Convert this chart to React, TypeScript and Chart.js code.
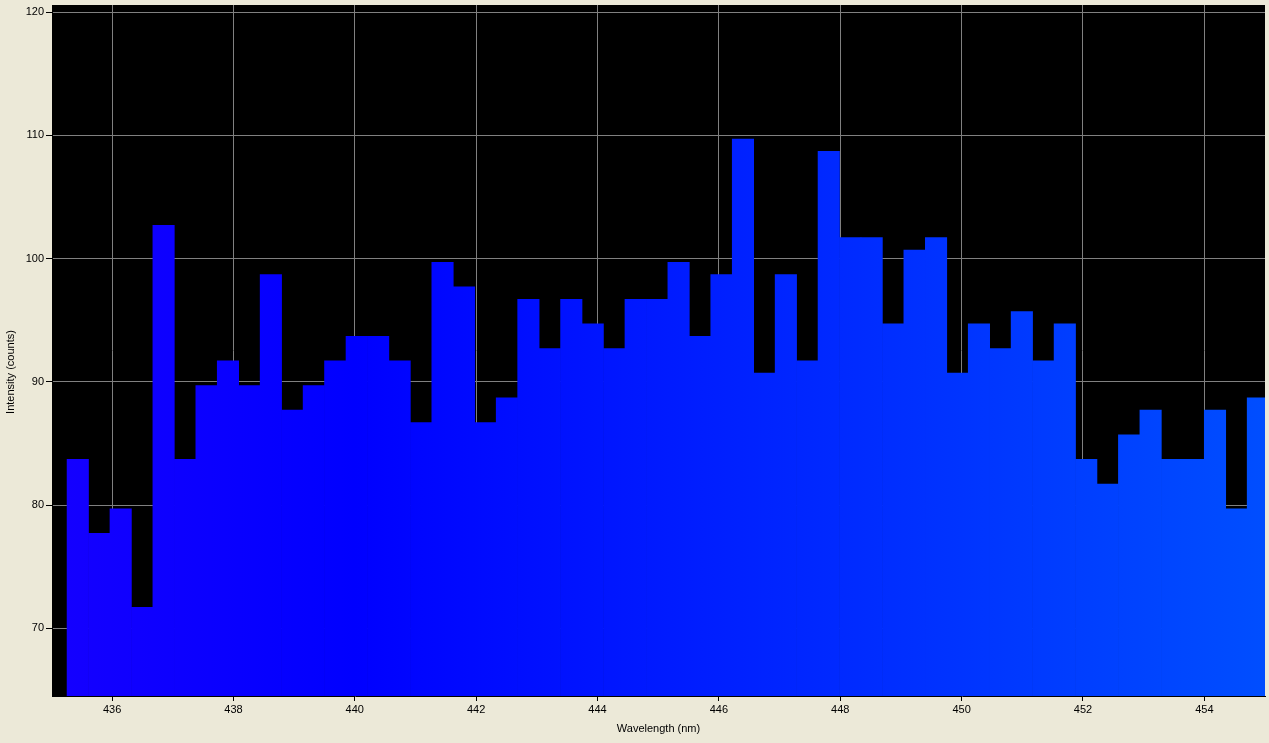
import React, { useEffect, useRef } from "react";
import { Chart, registerables } from "chart.js";

Chart.register(...registerables);

// Bin centres (nm)
const wavelengths: number[] = [
  435.435, 435.789, 436.142, 436.496, 436.849, 437.203, 437.557, 437.910,
  438.264, 438.617, 438.971, 439.325, 439.678, 440.032, 440.385, 440.739,
  441.093, 441.446, 441.800, 442.153, 442.507, 442.861, 443.214, 443.568,
  443.921, 444.275, 444.629, 444.982, 445.336, 445.689, 446.043, 446.397,
  446.750, 447.104, 447.457, 447.811, 448.165, 448.518, 448.872, 449.225,
  449.579, 449.933, 450.286, 450.640, 450.993, 451.347, 451.701, 452.054,
  452.408, 452.761, 453.115, 453.469, 453.822, 454.176, 454.529, 454.883,
];

// Intensity (counts)
const intensity: number[] = [
  83.7, 77.7, 79.7, 71.7, 102.7, 83.7, 89.7, 91.7,
  89.7, 98.7, 87.7, 89.7, 91.7, 93.7, 93.7, 91.7,
  86.7, 99.7, 97.7, 86.7, 88.7, 96.7, 92.7, 96.7,
  94.7, 92.7, 96.7, 96.7, 99.7, 93.7, 98.7, 109.7,
  90.7, 98.7, 91.7, 108.7, 101.7, 101.7, 94.7, 100.7,
  101.7, 90.7, 94.7, 92.7, 95.7, 91.7, 94.7, 83.7,
  81.7, 85.7, 87.7, 83.7, 83.7, 87.7, 79.7, 88.7,
];

const xTicks: number[] = [436, 438, 440, 442, 444, 446, 448, 450, 452, 454];
const yTicks: number[] = [70, 80, 90, 100, 110, 120];

const X_MIN = 435.01;
const X_MAX = 455.0;
const Y_MIN = 64.5;
const Y_MAX = 120.58;

const FONT_FAMILY = "'Liberation Sans', Arial, sans-serif";

export default function App() {
  const canvasRef = useRef<HTMLCanvasElement | null>(null);

  useEffect(() => {
    document.body.style.margin = "0";
    document.body.style.background = "#ECE9D8";
    const canvas = canvasRef.current;
    if (!canvas) return;

    const plotBg = {
      id: "plotBg",
      beforeDraw(chart: any) {
        const { ctx, chartArea } = chart;
        if (!chartArea) return;
        ctx.save();
        ctx.fillStyle = "#000000";
        ctx.fillRect(
          chartArea.left,
          chartArea.top,
          chartArea.right - chartArea.left,
          chartArea.bottom - chartArea.top
        );
        ctx.restore();
      },
    };

    const yTitle = {
      id: "yTitle",
      afterDraw(chart: any) {
        const { ctx } = chart;
        ctx.save();
        ctx.translate(11, 372);
        ctx.rotate(-Math.PI / 2);
        ctx.font = `11px ${FONT_FAMILY}`;
        ctx.fillStyle = "#000000";
        ctx.textAlign = "center";
        ctx.textBaseline = "middle";
        ctx.fillText("Intensity (counts)", 0, 0);
        ctx.restore();
      },
    };

    const chart = new Chart(canvas, {
      type: "bar",
      data: {
        datasets: [
          {
            data: wavelengths.map((w, i) => ({ x: w, y: intensity[i] })),
            backgroundColor: (c: any) => {
              const ch = c.chart;
              const xs = ch.scales?.x;
              if (!ch.chartArea || !xs) return "#0000ff";
              const x0 = xs.getPixelForValue(435);
              const x1 = xs.getPixelForValue(455);
              const g = ch.ctx.createLinearGradient(x0, 0, x1, 0);
              g.addColorStop(0, "rgb(21,0,255)");
              g.addColorStop(0.25, "rgb(0,0,255)");
              g.addColorStop(1, "rgb(0,78,255)");
              return g;
            },
            borderWidth: 0,
            barPercentage: 1,
            categoryPercentage: 1,
          },
        ],
      },
      options: {
        responsive: false,
        animation: false,
        events: [],
        layout: { padding: { top: 5, right: 4, left: 0, bottom: 0 } },
        plugins: {
          legend: { display: false },
          tooltip: { enabled: false },
        },
        scales: {
          x: {
            type: "linear",
            offset: false,
            min: X_MIN,
            max: X_MAX,
            afterBuildTicks: (s: any) => {
              s.ticks = xTicks.map((v) => ({ value: v }));
            },
            afterFit: (s: any) => {
              s.height = 47;
              s.paddingLeft = 0;
              s.paddingRight = 0;
            },
            grid: {
              offset: false,
              color: "#808080",
              lineWidth: 1,
              tickColor: "#000000",
              tickLength: 5,
              drawOnChartArea: true,
            },
            border: { color: "#000000", width: 1 },
            ticks: {
              color: "#000000",
              padding: 2,
              font: { family: FONT_FAMILY, size: 11 },
              maxRotation: 0,
              autoSkip: false,
              callback: (v: any) => String(v),
            },
            title: {
              display: true,
              text: "Wavelength (nm)",
              color: "#000000",
              font: { family: FONT_FAMILY, size: 11 },
              padding: { top: 0, bottom: 7 },
            },
          },
          y: {
            type: "linear",
            min: Y_MIN,
            max: Y_MAX,
            afterBuildTicks: (s: any) => {
              s.ticks = yTicks.map((v) => ({ value: v }));
            },
            afterFit: (s: any) => {
              s.width = 52;
              s.paddingTop = 0;
              s.paddingBottom = 0;
            },
            grid: {
              color: "#808080",
              lineWidth: 1,
              tickColor: "#000000",
              tickLength: 6,
            },
            border: { color: "#000000", width: 1 },
            ticks: {
              color: "#000000",
              padding: 2,
              font: { family: FONT_FAMILY, size: 11 },
              autoSkip: false,
              callback: (v: any) => String(v),
            },
            title: { display: false },
          },
        },
      },
      plugins: [plotBg, yTitle],
    } as any);

    return () => {
      chart.destroy();
    };
  }, []);

  return (
    <div style={{ width: 1269, height: 743, background: "#ECE9D8" }}>
      <canvas ref={canvasRef} width={1269} height={743} />
    </div>
  );
}
